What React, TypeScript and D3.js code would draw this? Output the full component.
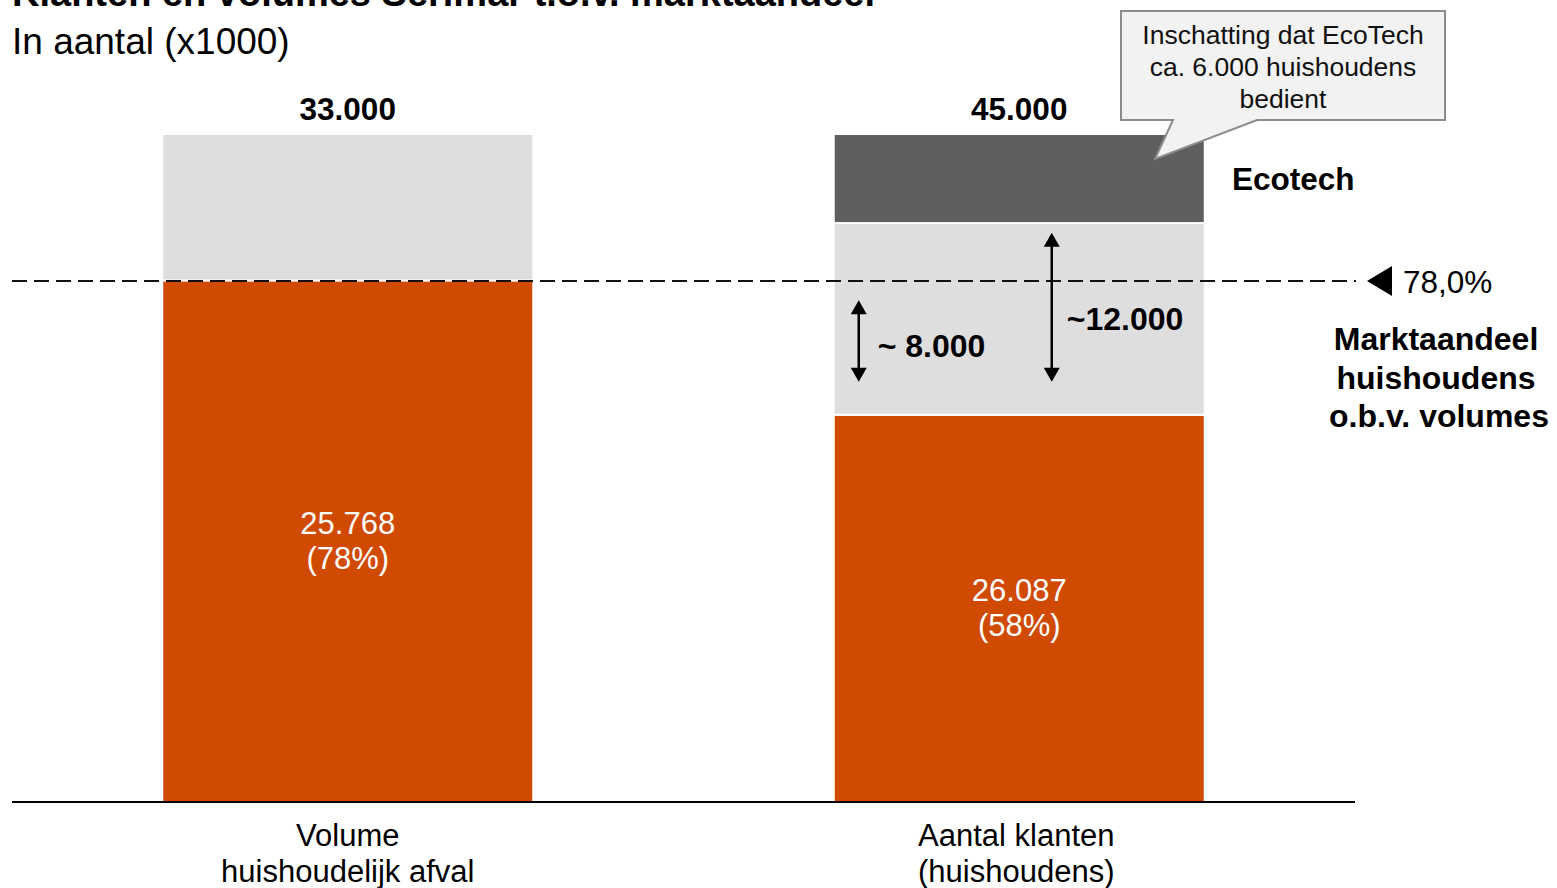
import React from "react";
import * as d3 from "d3";

const categories = ["Volume|huishoudelijk afval", "Aantal klanten|(huishoudens)"];
const totals = [33000, 45000];
const serimar = [25768, 26087];
const overig = [7232, 12913];
const ecotech = [0, 6000];
const serimarPctLabels = ["78%", "58%"];
const marketShare = 78.0;
const marketShareLabel = "78,0%";
// annotation arrows on the second bar, in % of bar height
const arrowSmall = [62.9, 75.1];
const arrowBig = [62.9, 85.2];

const W = 1557;
const H = 888;
const FONT = "'Liberation Sans', Arial, Helvetica, sans-serif";
const ORANGE = "#D04A02";
const LIGHT = "#DEDEDE";
const DARK = "#5F5F5F";

const fmt = (v: number) => d3.format(",")(v).replace(/,/g, ".");

export default function App() {
  const x = d3
    .scaleBand<string>()
    .domain(categories)
    .range([12, 1355])
    .paddingInner(0.4475)
    .paddingOuter(0.22375);
  const y = d3.scaleLinear().domain([0, 100]).range([802, 134]);
  const bw = x.bandwidth();

  const segs: { i: number; y0: number; y1: number; fill: string }[] = [];
  categories.forEach((c, i) => {
    const t = totals[i];
    const a = (serimar[i] / t) * 100;
    const b = a + (overig[i] / t) * 100;
    const e = b + (ecotech[i] / t) * 100;
    segs.push({ i, y0: 0, y1: a, fill: ORANGE });
    segs.push({ i, y0: a, y1: b, fill: LIGHT });
    if (ecotech[i] > 0) segs.push({ i, y0: b, y1: e, fill: DARK });
  });

  const cx = (i: number) => (x(categories[i]) as number) + bw / 2;
  const bar2 = x(categories[1]) as number;

  const arrow = (xp: number, v: number[]) => {
    const yTop = y(v[1]);
    const yBot = y(v[0]);
    const ah = 14;
    const aw = 8;
    return (
      <g>
        <line x1={xp} x2={xp} y1={yTop + ah - 2} y2={yBot - ah + 2} stroke="#000" strokeWidth={2.5} />
        <path d={`M${xp},${yTop} L${xp - aw},${yTop + ah} L${xp + aw},${yTop + ah} Z`} fill="#000" />
        <path d={`M${xp},${yBot} L${xp - aw},${yBot - ah} L${xp + aw},${yBot - ah} Z`} fill="#000" />
      </g>
    );
  };

  const msY = y(marketShare);

  return (
    <div style={{ position: "fixed", left: 0, top: 0 }}>
      <svg width={W} height={H} style={{ display: "block", fontFamily: FONT }}>
        <rect width={W} height={H} fill="#fff" />
        <text x={12} y={6} fontSize={38} fontWeight="bold" fill="#000">
          Klanten en volumes Serimar t.o.v. marktaandeel
        </text>
        <text x={12} y={54} fontSize={37} fill="#000">
          In aantal (x1000)
        </text>

        {segs.map((s, k) => (
          <rect
            key={k}
            x={x(categories[s.i])}
            width={bw}
            y={y(s.y1)}
            height={y(s.y0) - y(s.y1)}
            fill={s.fill}
            stroke="#fff"
            strokeWidth={2}
          />
        ))}

        {/* totals */}
        {totals.map((t, i) => (
          <text key={i} x={cx(i)} y={120} textAnchor="middle" fontSize={31.5} fontWeight="bold">
            {fmt(t)}
          </text>
        ))}

        {/* inner labels */}
        {serimar.map((v, i) => {
          const mid = (y(0) + y((v / totals[i]) * 100)) / 2;
          return (
            <text key={i} x={cx(i)} textAnchor="middle" fontSize={31} fill="#fff">
              <tspan x={cx(i)} y={mid - 7}>{fmt(v)}</tspan>
              <tspan x={cx(i)} y={mid + 28}>({serimarPctLabels[i]})</tspan>
            </text>
          );
        })}

        {/* market share dashed line */}
        <line x1={12} x2={1356} y1={msY} y2={msY} stroke="#111" strokeWidth={2} strokeDasharray="15,7" />
        <path d={`M1367,${msY} L1392,${msY - 15} L1392,${msY + 15} Z`} fill="#000" />
        <text x={1403} y={msY + 12} fontSize={31.5}>{marketShareLabel}</text>
        <text textAnchor="middle" fontSize={32} fontWeight="bold">
          <tspan x={1436} y={350}>Marktaandeel</tspan>
          <tspan x={1436} y={389}>huishoudens</tspan>
          <tspan x={1439} y={427}>o.b.v. volumes</tspan>
        </text>

        {/* arrows */}
        {arrow(bar2 + 25, arrowSmall)}
        <text x={bar2 + 44} y={357} fontSize={32} fontWeight="bold">~ 8.000</text>
        {arrow(bar2 + 218, arrowBig)}
        <text x={bar2 + 233} y={330} fontSize={32} fontWeight="bold">~12.000</text>

        {/* Ecotech label */}
        <text x={1232} y={190} fontSize={31.5} fontWeight="bold">Ecotech</text>

        {/* callout */}
        <path
          d="M1121,11 H1445 V120 H1257 L1155,159 L1173,120 H1121 Z"
          fill="#F2F2F2"
          stroke="#8C8C8C"
          strokeWidth={2}
        />
        <text textAnchor="middle" fontSize={26.5} fill="#111">
          <tspan x={1283} y={44}>Inschatting dat EcoTech</tspan>
          <tspan x={1283} y={76}>ca. 6.000 huishoudens</tspan>
          <tspan x={1283} y={108}>bedient</tspan>
        </text>

        {/* baseline */}
        <line x1={12} x2={1355} y1={y(0)} y2={y(0)} stroke="#000" strokeWidth={2} />

        {/* category labels */}
        {categories.map((c, i) => {
          const lines = c.split("|");
          return (
            <text key={i} textAnchor="middle" fontSize={31}>
              {lines.map((l, j) => (
                <tspan key={j} x={cx(i) - (i === 1 ? 3 : 0)} y={846 + j * 36}>
                  {l}
                </tspan>
              ))}
            </text>
          );
        })}
      </svg>
    </div>
  );
}
